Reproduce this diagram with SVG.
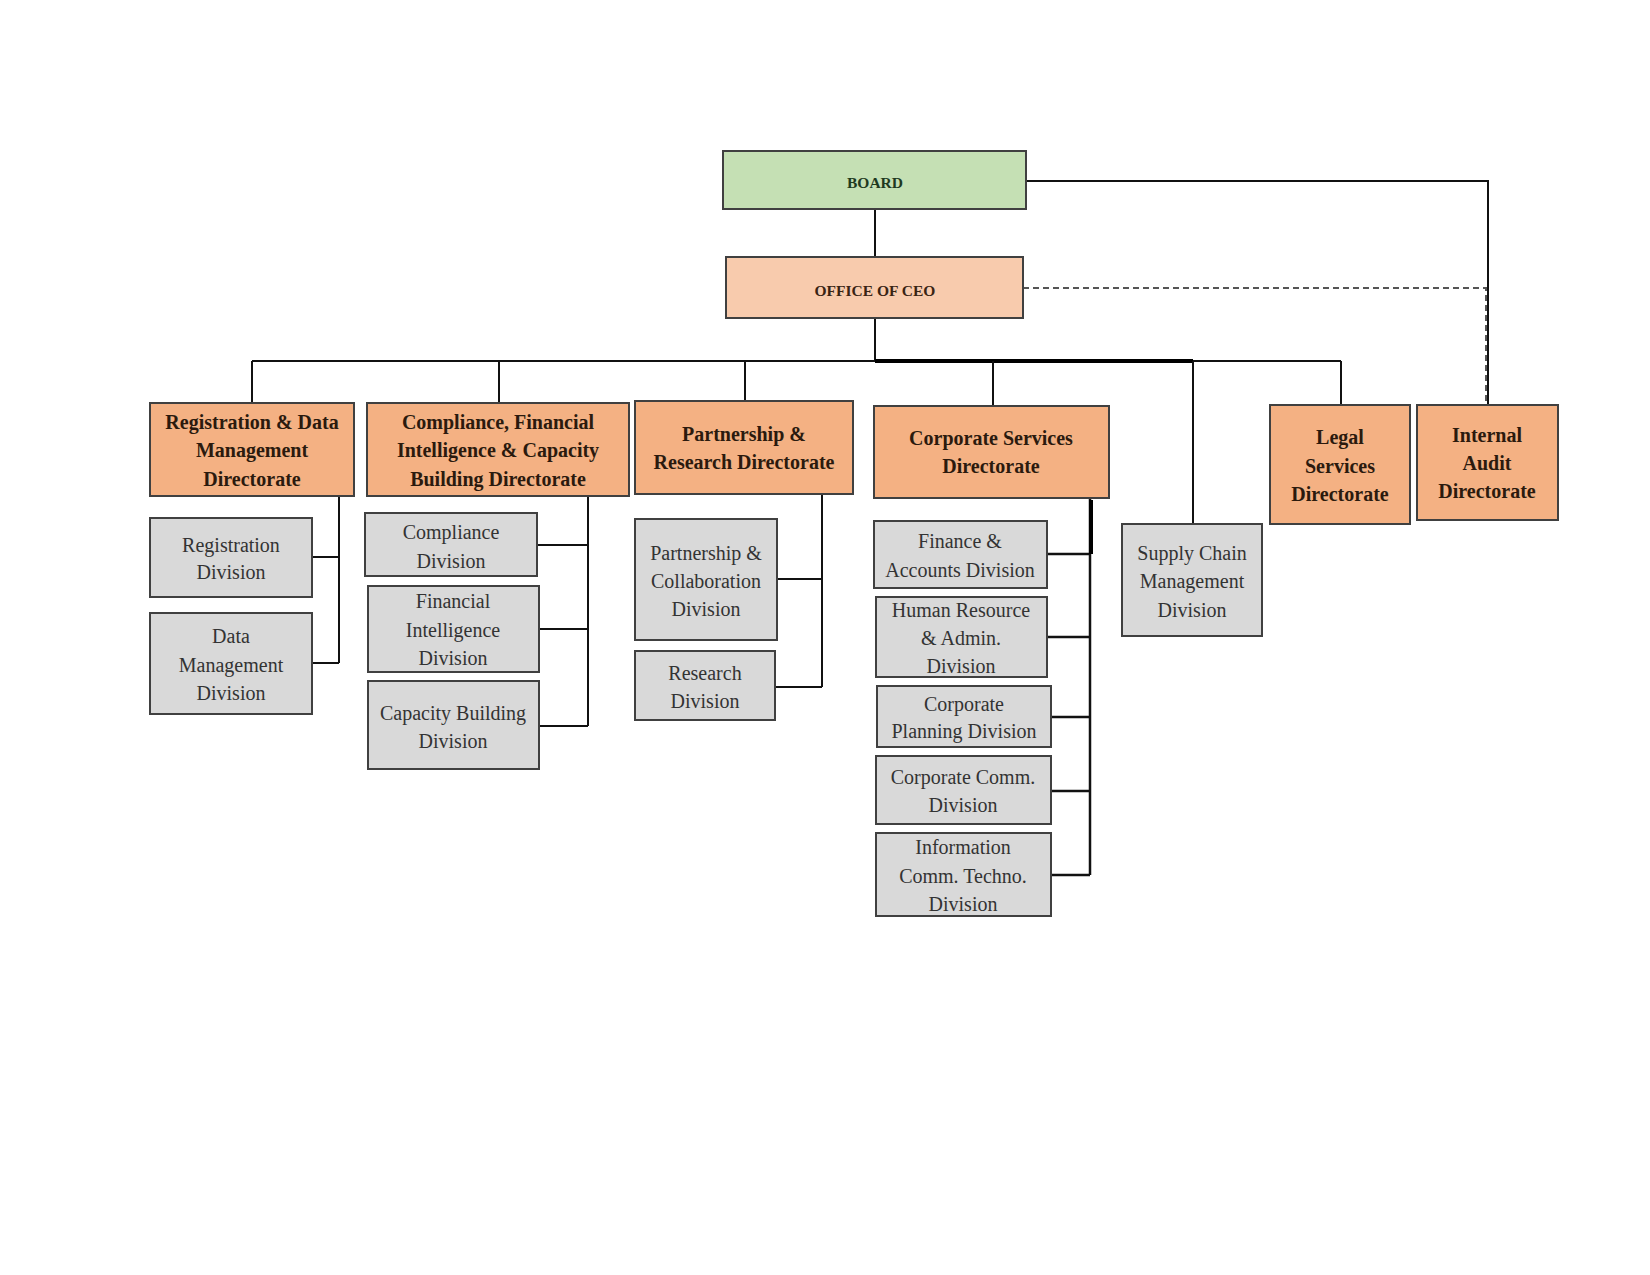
<svg xmlns="http://www.w3.org/2000/svg" width="1650" height="1275" viewBox="0 0 1650 1275">
<style>
.box{stroke:#404040;stroke-width:2}
.board{fill:#c5e0b4}
.ceo{fill:#f8cbad}
.dir{fill:#f4b183}
.div{fill:#d9d9d9}
.tb{font-family:"Liberation Serif","Times New Roman",serif;font-weight:bold;font-size:20px;fill:#2b1a0e;text-anchor:middle}
.tt{font-family:"Liberation Serif","Times New Roman",serif;font-weight:bold;font-size:15.5px;text-anchor:middle}
.td{font-family:"Liberation Serif","Times New Roman",serif;font-size:20px;fill:#333;text-anchor:middle}
.ln{fill:none;stroke:#111;stroke-width:2}
.thick{fill:none;stroke:#000;stroke-width:4}
.dash{fill:none;stroke:#555;stroke-width:2;stroke-dasharray:6 4}
</style>
<rect width="1650" height="1275" fill="#fff"/>
<g id="connectors">
<path class="ln" d="M875 209V257"/>
<path class="ln" d="M1026 181H1488V405"/>
<path class="dash" d="M1023 288H1486V405"/>
<path class="ln" d="M875 318V361"/>
<path class="ln" d="M252 361H1341"/>
<path class="thick" d="M875 361H1193"/>
<path class="ln" d="M252 361V403M499 361V403M745 361V401M993 361V406M1193 361V524M1341 361V405"/>
<path class="ln" d="M339 496V663M312 557H339M312 663H339"/>
<path class="ln" d="M588 496V726M537 545H588M539 629H588M539 726H588"/>
<path class="ln" d="M822 494V687M777 579H822M775 687H822"/>
<path class="ln" d="M1090 498V875M1047 554H1090M1047 637H1090M1051 717H1090M1051 791H1090M1051 875H1090" style="stroke-width:2.5"/>
<path class="thick" d="M1091 500V554"/>
</g>
<g id="board"><rect class="box board" x="723" y="151" width="303" height="58"/><text class="tt" x="875" y="188" fill="#1f3a1f">BOARD</text></g>
<g id="ceo"><rect class="box ceo" x="726" y="257" width="297" height="61"/><text class="tt" x="875" y="296" fill="#3a2414">OFFICE OF CEO</text></g>
<g id="dir-registration"><rect class="box dir" x="150" y="403" width="204" height="93"/><text class="tb" x="252" y="429">Registration &amp; Data</text><text class="tb" x="252" y="457">Management</text><text class="tb" x="252" y="486">Directorate</text></g>
<g id="dir-compliance"><rect class="box dir" x="367" y="403" width="262" height="93"/><text class="tb" x="498" y="429">Compliance, Financial</text><text class="tb" x="498" y="457">Intelligence &amp; Capacity</text><text class="tb" x="498" y="486">Building Directorate</text></g>
<g id="dir-partnership"><rect class="box dir" x="635" y="401" width="218" height="93"/><text class="tb" x="744" y="441">Partnership &amp;</text><text class="tb" x="744" y="469">Research Directorate</text></g>
<g id="dir-corporate"><rect class="box dir" x="874" y="406" width="235" height="92"/><text class="tb" x="991" y="445">Corporate Services</text><text class="tb" x="991" y="473">Directorate</text></g>
<g id="dir-legal"><rect class="box dir" x="1270" y="405" width="140" height="119"/><text class="tb" x="1340" y="444">Legal</text><text class="tb" x="1340" y="473">Services</text><text class="tb" x="1340" y="501">Directorate</text></g>
<g id="dir-audit"><rect class="box dir" x="1417" y="405" width="141" height="115"/><text class="tb" x="1487" y="442">Internal</text><text class="tb" x="1487" y="470">Audit</text><text class="tb" x="1487" y="498">Directorate</text></g>
<g id="div-registration"><rect class="box div" x="150" y="518" width="162" height="79"/><text class="td" x="231" y="552">Registration</text><text class="td" x="231" y="579">Division</text></g>
<g id="div-data"><rect class="box div" x="150" y="613" width="162" height="101"/><text class="td" x="231" y="643">Data</text><text class="td" x="231" y="672">Management</text><text class="td" x="231" y="700">Division</text></g>
<g id="div-compliance"><rect class="box div" x="365" y="513" width="172" height="63"/><text class="td" x="451" y="539">Compliance</text><text class="td" x="451" y="568">Division</text></g>
<g id="div-finintel"><rect class="box div" x="368" y="586" width="171" height="86"/><text class="td" x="453" y="608">Financial</text><text class="td" x="453" y="637">Intelligence</text><text class="td" x="453" y="665">Division</text></g>
<g id="div-capacity"><rect class="box div" x="368" y="681" width="171" height="88"/><text class="td" x="453" y="720">Capacity Building</text><text class="td" x="453" y="748">Division</text></g>
<g id="div-partnership"><rect class="box div" x="635" y="519" width="142" height="121"/><text class="td" x="706" y="560">Partnership &amp;</text><text class="td" x="706" y="588">Collaboration</text><text class="td" x="706" y="616">Division</text></g>
<g id="div-research"><rect class="box div" x="635" y="651" width="140" height="69"/><text class="td" x="705" y="680">Research</text><text class="td" x="705" y="708">Division</text></g>
<g id="div-finance"><rect class="box div" x="874" y="521" width="173" height="67"/><text class="td" x="960" y="548">Finance &amp;</text><text class="td" x="960" y="577">Accounts Division</text></g>
<g id="div-hr"><rect class="box div" x="876" y="597" width="171" height="80"/><text class="td" x="961" y="617">Human Resource</text><text class="td" x="961" y="645">&amp; Admin.</text><text class="td" x="961" y="673">Division</text></g>
<g id="div-planning"><rect class="box div" x="877" y="686" width="174" height="61"/><text class="td" x="964" y="711">Corporate</text><text class="td" x="964" y="738">Planning Division</text></g>
<g id="div-comm"><rect class="box div" x="876" y="756" width="175" height="68"/><text class="td" x="963" y="784">Corporate Comm.</text><text class="td" x="963" y="812">Division</text></g>
<g id="div-ict"><rect class="box div" x="876" y="833" width="175" height="83"/><text class="td" x="963" y="854">Information</text><text class="td" x="963" y="883">Comm. Techno.</text><text class="td" x="963" y="911">Division</text></g>
<g id="div-supply"><rect class="box div" x="1122" y="524" width="140" height="112"/><text class="td" x="1192" y="560">Supply Chain</text><text class="td" x="1192" y="588">Management</text><text class="td" x="1192" y="617">Division</text></g>
</svg>
